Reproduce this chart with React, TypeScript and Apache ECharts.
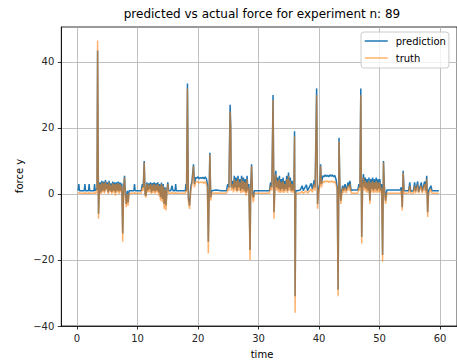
import { useEffect, useRef } from 'react';
import * as echarts from 'echarts';

const titleText = 'predicted vs actual force for experiment n: 89';
const xLabel = 'time';
const yLabel = 'force y';
const seriesNames = ['prediction', 'truth'];
const xTicks = [0, 10, 20, 30, 40, 50, 60];
const yTicks = [-40, -20, 0, 20, 40];

const time = [
  0.2, 0.3, 0.4, 1.2, 1.3, 1.4, 1.9, 2.0, 2.1, 2.8,
  2.9, 3.0, 3.3, 3.4, 3.55, 3.7, 3.8, 3.95, 4.1, 4.25,
  4.4, 4.55, 4.7, 4.85, 5.0, 5.15, 5.3, 5.45, 5.6, 5.75,
  5.9, 6.05, 6.2, 6.35, 6.5, 6.65, 6.8, 6.95, 7.1, 7.25,
  7.4, 7.55, 7.7, 7.85, 8.0, 8.15, 8.3, 8.45, 8.6, 9.4,
  9.5, 9.6, 10.6, 10.8, 10.95, 11.1, 11.25, 11.4, 11.55, 11.7,
  11.85, 12.0, 12.15, 12.3, 12.45, 12.6, 12.75, 12.9, 13.05, 13.2,
  13.35, 13.5, 13.65, 13.8, 13.95, 14.1, 14.25, 14.4, 14.55, 14.7,
  14.85, 15.0, 15.15, 15.5, 15.7, 15.85, 16.2, 16.3, 16.4, 17.9,
  18.0, 18.1, 18.25, 18.4, 18.6, 18.8, 19.0, 19.25, 19.4, 19.6,
  19.8, 20.0, 20.2, 20.4, 20.6, 20.8, 21.0, 21.2, 21.4, 21.55,
  21.7, 21.85, 21.95, 22.1, 22.25, 23.0, 23.8, 24.7, 24.9, 25.1,
  25.3, 25.4, 25.5, 25.7, 25.85, 26.0, 26.15, 26.3, 26.45, 26.6,
  26.75, 26.9, 27.05, 27.2, 27.35, 27.5, 27.65, 27.8, 27.95, 28.1,
  28.25, 28.4, 28.6, 28.7, 28.85, 29.0, 29.15, 29.3, 30.5, 31.8,
  32.0, 32.2, 32.4, 32.55, 32.7, 32.85, 33.0, 33.15, 33.3, 33.45,
  33.6, 33.75, 33.9, 34.05, 34.2, 34.35, 34.5, 34.65, 34.8, 34.95,
  35.1, 35.25, 35.4, 35.55, 35.7, 35.85, 35.95, 36.05, 36.15, 36.4,
  36.9, 37.2, 37.4, 37.9, 38.1, 38.7, 38.9, 39.2, 39.35, 39.6,
  39.75, 39.9, 40.1, 40.25, 40.4, 40.6, 40.8, 41.0, 41.2, 41.4,
  41.6, 41.8, 42.0, 42.2, 42.4, 42.6, 42.8, 43.0, 43.15, 43.3,
  43.45, 43.6, 43.75, 43.9, 44.05, 44.3, 44.5, 44.8, 45.0, 45.1,
  45.3, 45.5, 46.4, 46.6, 46.75, 46.9, 47.05, 47.2, 47.35, 47.5,
  47.65, 47.8, 47.95, 48.1, 48.25, 48.4, 48.55, 48.7, 48.85, 49.0,
  49.15, 49.3, 49.45, 49.6, 49.75, 49.9, 50.05, 50.2, 50.35, 50.5,
  50.65, 50.8, 51.0, 51.2, 52.3, 53.4, 53.6, 53.75, 53.9, 54.05,
  54.3, 54.8, 55.0, 55.15, 55.6, 55.8, 55.95, 56.3, 56.45, 56.9,
  57.05, 57.45, 57.6, 57.8, 57.95, 58.1, 58.5, 58.65, 59.8,
];

const prediction = [
  1, 3, 1, 1, 3, 1, 1, 3, 1, 1,
  3, 1, 1.5, 43.5, -6, 2, 3.5, 0.5, 4, 1,
  3.8, 0.8, 4.2, 1.5, 3.5, 0.5, 4, 1, 3.2, 0.6,
  3.8, 1, 3.5, 0.5, 3.5, 1, 3.8, 0.8, 3.5, 1,
  3.2, -12, 2, 5.5, 0, -3, 1, -2.5, 1, 1,
  3, 1, 1, 3, 2, 10, 0, -0.5, 3.5, 1,
  3.2, 1.5, 3.5, 0.5, 3.3, 1, 3.5, 0.8, 3.3, 1,
  3.5, 0.5, 3, -1, 3.5, -1.5, 3, -3, 2, -3.5,
  1, 3.5, 1, 1, 2.5, 1, 1, 3, 1, 1,
  3, 1, 33.5, -1, -3.5, 2, 4, 9, 3, 5,
  4.8, 5.2, 4.6, 5.0, 4.7, 5.1, 4.6, 5.2, 4.5, 3,
  -14.5, 2, 12.5, -1, 1, 1.2, 1, 1, 3, 2,
  27, 21, 2, 4, 1.5, 5.5, 2, 5, 1, 5.5,
  2, 4.5, 1, 5.5, 1.5, 5, 1, 4.5, 0.5, 5.5,
  1, 3, -17, 2, 9, 0, -1, 1, 1, 1,
  3.5, 2, 30, -5.5, 3, 7, 2, 5, 1.5, 5.5,
  1, 4.5, 1.5, 5, 1, 4, 1.5, 5.5, 1, 6.5,
  2, 5, 1, 4, 1, 3, 19, -31, 1, 1,
  1.2, 2.5, 1, 2.8, 1, 3.2, 1.5, 4.2, 2, 32,
  -3, 1, 3, 9, 3, 5.5, 5.2, 5.8, 5.3, 5.7,
  5.2, 5.8, 5.4, 5.8, 5.2, 5.6, 4.5, 2, -29, 17,
  2, -2, 1, 2.5, 1, 3, 1, 3.5, 2, 4,
  1, 1.2, 1.2, 3, 2, 32, -13, 3, 6, 2,
  5, 1.5, 4.5, 1, 5, -2, 4.5, 1.5, 5, 1,
  4.5, 1.5, 5, 1, 4.5, 1.5, 4.5, 1, 3, -18.5,
  10, 2, -2, 1.2, 1.2, 1.2, 2, -4, 7, 1,
  1, 1, 3.5, 0.8, 1, 3.5, 0.8, 3.8, 0.6, 3.5,
  0.8, 3.8, 1, 5.5, -5.5, 1, 2.5, 1, 1,
];

const truth = [
  0.2, 0.5, 0.2, 0.2, 0.5, 0.2, 0.2, 0.5, 0.2, 0.2,
  0.8, 0.2, 0.5, 46.5, -7.5, 1, 3, 0, 3.5, 0.5,
  3.2, 0.2, 3.8, 1, 3, 0, 3.5, 0.5, 2.8, 0,
  3.2, 0.4, 3, -0.5, 3, 0.5, 3.3, 0, 3, 0.5,
  2.5, -14.5, 1, 5, -1, -4, 0, -3.5, 0.2, 0.2,
  0.5, 0.2, 0.2, 2, 1, 9.5, -0.5, -1, 3, 0.5,
  2.8, 0.5, 3, 0, 2.8, 0.3, 3, 0, 2.8, 0.5,
  3, -0.5, 2.5, -2, 3, -2.5, 2.5, -4.5, 1.5, -5,
  0.5, 3, 0.2, 0.2, 0.5, 0.2, 0.2, 0.5, 0.2, 0.2,
  1, 0.5, 32, -2, -4.5, 1, 3, 8.5, 2, 3.5,
  3.8, 3.5, 3.3, 3.7, 3.4, 3.6, 3.2, 3.8, 3.0, 2,
  -18, 1, 12, -2, 0.2, 0.3, 0.2, 0.2, 1.5, 1,
  25, 20, 1, 3, 0.5, 4.5, 1, 4, 0.5, 4.5,
  1, 3.5, 0.3, 4.5, 0.5, 4, 0.5, 3.5, -0.5, 4.5,
  0.3, 2, -20, 1, 8.5, -1, -2.5, 0.2, 0.2, 0.2,
  2.5, 1, 28.5, -7.5, 2, 6, 1, 4, 0.5, 4.5,
  0.3, 3.5, 0.5, 4, 0.3, 3, 0.8, 4.5, 0.3, 5.5,
  1, 4, 0.5, 3, 0.3, 2, 17.5, -36, 0, 0.2,
  0.3, 0.8, 0.2, 1, 0.2, 1.5, 0.5, 3, 1, 30,
  -4.5, 0, 2, 8.5, 2, 3.8, 3.5, 4, 3.6, 4,
  3.5, 3.9, 3.6, 4, 3.4, 3.8, 3, 1, -31, 16,
  1, -3, 0, 2, 0.3, 2, 0.3, 2.5, 1, 3,
  0.3, 0.2, 0.2, 2, 1, 30, -15, 2, 5, 1,
  4, 0.5, 3.5, 0.3, 4, -3, 3.5, 0.5, 4, 0.3,
  3.5, 0.5, 4, 0.3, 3.5, 0.5, 3.5, 0.3, 2, -20.5,
  9.5, 1, -3, 0.2, 0.2, 0.2, 1, -5, 6.5, 0.2,
  0.2, 0.2, 2.5, 0.2, 0.2, 2.5, 0.2, 2.8, 0.2, 2.5,
  0.2, 3, 0.2, 4.5, -7, 0, 1.5, 0.2, 0.2,
];

const fmt = (v: number) => String(v).replace('-', '\u2212');

export default function App() {
  const ref = useRef<HTMLDivElement>(null);
  useEffect(() => {
    if (!ref.current) return;
    const chart = echarts.init(ref.current, null, { renderer: 'svg' });
    const font = 'DejaVu Sans';
    const predData = time.map((t, i) => [t, prediction[i]]);
    const truthData = time.map((t, i) => [t, truth[i]]);
    chart.setOption({
      animation: false,
      backgroundColor: '#ffffff',
      grid: {
        left: 61.3, top: 27, width: 401, height: 299,
        show: true, borderColor: '#000', borderWidth: 0.8, backgroundColor: 'transparent',
      },
      xAxis: {
        type: 'value', min: -2.6, max: 62.8,
        axisLine: { show: true, onZero: false, lineStyle: { color: '#000', width: 0.8 } },
        axisTick: { show: true, length: 3.5, customValues: xTicks, lineStyle: { color: '#000', width: 0.8 } },
        axisLabel: { customValues: xTicks, formatter: fmt, color: '#262626', fontSize: 10, fontFamily: font, margin: 7 },
        splitLine: { show: true, lineStyle: { color: '#b0b0b0', width: 0.8 } },
      },
      yAxis: {
        type: 'value', min: -40, max: 50.6,
        axisLine: { show: true, onZero: false, lineStyle: { color: '#000', width: 0.8 } },
        axisTick: { show: true, length: 3.5, customValues: yTicks, lineStyle: { color: '#000', width: 0.8 } },
        axisLabel: { customValues: yTicks, formatter: fmt, color: '#262626', fontSize: 10, fontFamily: font, margin: 7 },
        splitLine: { show: true, lineStyle: { color: '#b0b0b0', width: 0.8 } },
      },
      legend: {
        data: seriesNames,
        orient: 'vertical',
        left: 361, top: 32,
        itemWidth: 23, itemHeight: 10, itemGap: 7,
        padding: [4, 3, 5, 3],
        backgroundColor: 'rgba(255,255,255,0.8)',
        borderColor: '#cccccc', borderWidth: 1, borderRadius: 3,
        itemStyle: { opacity: 0, borderWidth: 0 },
        lineStyle: { width: 1.5 },
        textStyle: { fontFamily: font, fontSize: 10, color: '#000', padding: [0, 0, 0, 3] },
        selectedMode: false,
        z: 10,
      },
      graphic: [
        { type: 'text', x: 262, y: 14, style: { text: titleText, font: `12px "${font}"`, fill: '#000', align: 'center', verticalAlign: 'middle' } },
        { type: 'text', x: 262, y: 354, style: { text: xLabel, font: `10px "${font}"`, fill: '#000', align: 'center', verticalAlign: 'middle' } },
        { type: 'text', x: 19, y: 176, rotation: Math.PI / 2, style: { text: yLabel, font: `10px "${font}"`, fill: '#000', align: 'center', verticalAlign: 'middle' } },
      ],
      series: [
        {
          type: 'line', name: seriesNames[0], data: predData, symbol: 'none', showSymbol: false,
          color: '#1f77b4', lineStyle: { width: 1.5 }, silent: true, z: 2,
        },
        {
          type: 'line', name: seriesNames[1], data: truthData, symbol: 'none', showSymbol: false,
          color: 'rgba(255,127,14,0.6)', lineStyle: { width: 1.5 }, silent: true, z: 3,
        },
      ],
    });
    return () => chart.dispose();
  }, []);
  return (
    <div
      ref={ref}
      style={{ position: 'fixed', left: 0, top: 0, width: 457, height: 362, background: '#fff' }}
    />
  );
}
